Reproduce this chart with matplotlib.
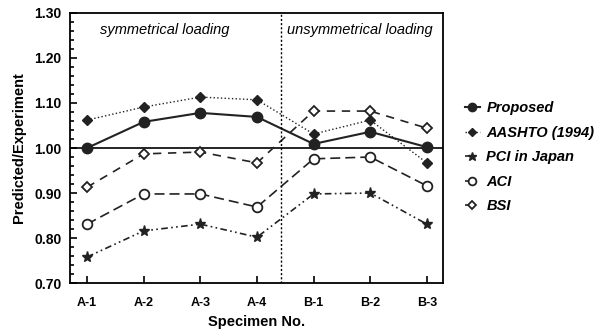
import matplotlib
matplotlib.use("Agg")
import matplotlib.pyplot as plt
from matplotlib.ticker import MultipleLocator

plt.rcParams['font.family'] = ['Liberation Sans', 'DejaVu Sans']

specimens = ["A-1", "A-2", "A-3", "A-4", "B-1", "B-2", "B-3"]
proposed = [1.000, 1.058, 1.078, 1.069, 1.009, 1.036, 1.002]
aashto = [1.062, 1.091, 1.113, 1.107, 1.031, 1.062, 0.967]
pci_japan = [0.758, 0.816, 0.831, 0.802, 0.898, 0.900, 0.831]
aci = [0.831, 0.898, 0.898, 0.869, 0.976, 0.980, 0.916]
bsi = [0.913, 0.987, 0.991, 0.967, 1.082, 1.082, 1.044]
series_names = ["Proposed", "AASHTO (1994)", "PCI in Japan", "ACI", "BSI"]

fig = plt.figure(figsize=(6.04, 3.30), dpi=100)
ax = fig.add_axes([0.116, 0.142, 0.617, 0.819])
x = list(range(len(specimens)))

c = '#222222'
ax.plot(x, proposed, '-', color=c, lw=1.5, marker='o', ms=7.5, mfc=c, mec=c, label=series_names[0])
ax.plot(x, aashto, ':', color=c, lw=1.0, marker='D', ms=5.5, mfc=c, mec=c, label=series_names[1])
ax.plot(x, pci_japan, color=c, lw=1.2, dashes=[4, 2, 1, 2, 1, 2], marker='*', ms=8, mfc=c, mec=c, label=series_names[2])
ax.plot(x, aci, color=c, lw=1.2, dashes=[6, 3], marker='o', ms=7, mfc='white', mec=c, mew=1.3, label=series_names[3])
ax.plot(x, bsi, color=c, lw=1.2, dashes=[5, 4], marker='D', ms=5, mfc='white', mec=c, mew=1.3, label=series_names[4])

ax.axhline(1.0, color='black', lw=1.2, zorder=1)
ax.axvline(3.43, color='black', lw=1.0, ls=(0, (1.5, 1.5)))

ax.set_xlim(-0.3, 6.28)
ax.set_ylim(0.70, 1.30)
ax.set_xticks(x)
ax.set_xticklabels(specimens, fontweight='bold', fontsize=9)
ax.yaxis.set_major_locator(MultipleLocator(0.1))
ax.yaxis.set_minor_locator(MultipleLocator(0.02))
ax.set_yticklabels([f"{v:.2f}" for v in ax.get_yticks()], fontweight='bold', fontsize=10)
ax.tick_params(axis='both', which='both', direction='in', width=1.2)
ax.tick_params(axis='y', which='major', length=5, pad=6)
ax.tick_params(axis='y', which='minor', length=3)
ax.tick_params(axis='x', which='major', length=5, pad=10)
for s in ax.spines.values():
    s.set_linewidth(1.3)

ax.text(0.08, 0.937, "symmetrical loading", transform=ax.transAxes, style='italic', fontsize=10.5, va='center')
ax.text(0.583, 0.937, "unsymmetrical loading", transform=ax.transAxes, style='italic', fontsize=10.5, va='center')

ax.set_ylabel("Predicted/Experiment", fontweight='bold', fontsize=10.5, labelpad=6)
ax.set_xlabel("Specimen No.", fontweight='bold', fontsize=10.5, labelpad=4)

leg = ax.legend(loc='center left', bbox_to_anchor=(1.025, 0.465), frameon=False,
                handlelength=1.0, handletextpad=0.45, labelspacing=0.72, markerscale=0.8,
                prop={'weight': 'bold', 'style': 'italic', 'size': 10.5})

fig.savefig("out.png", dpi=100)
